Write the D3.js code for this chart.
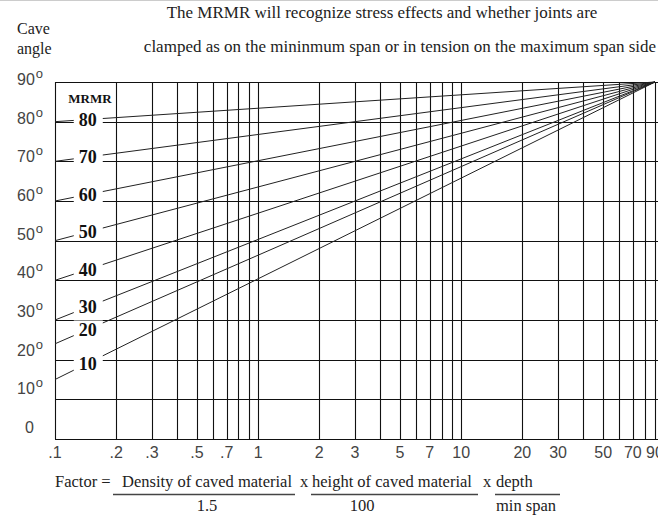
<!DOCTYPE html>
<html>
<head>
<meta charset="utf-8">
<script src="https://cdn.jsdelivr.net/npm/d3@7"></script>
<style>
  body { margin: 0; background: #fff; }
  svg text { font-family: "Liberation Serif", serif; fill: #222; }
  .tick-label { font-family: "Liberation Sans", Arial, sans-serif; font-size: 16px; fill: #444; }
</style>
</head>
<body>
<div id="chart"></div>
<script>
// MRMR cave angle chart

// Data
var mrmrValues = [10, 20, 30, 40, 50, 60, 70, 80]
var startAngles = [15, 24, 30, 40, 50, 60, 70, 80]   // cave angle at factor .1
var endFactor = 90, endAngle = 90                     // all lines meet here
var labelFactor = 0.145

var angleTicks = [0, 10, 20, 30, 40, 50, 60, 70, 80, 90]
var factorGrid = [.1, .2, .3, .4, .5, .6, .7, .8, .9, 1, 2, 3, 4, 5, 6, 7, 8, 9, 10, 20, 30, 40, 50, 60, 70, 80, 90]
var factorLabels = [.1, .2, .3, .5, .7, 1, 2, 3, 5, 7, 10, 20, 30, 50, 70, 90]

var width = 658, height = 515

var svg = d3.select("#chart").append("svg")
    .attr("width", width)
    .attr("height", height)

var x = d3.scaleLog()
  .domain([0.1, 90])
  .range([55, 655])

var y = d3.scaleLinear()
  .domain([0, 90])
  .range([439, 82])

// the angle labels on the left sit a bit off the grid in the original
var yLabel = d3.scaleLinear()
  .domain([0, 90])
  .range([433, 85])

// top frame line
svg.append("line")
  .attr("x1", 0).attr("x2", width)
  .attr("y1", 0.5).attr("y2", 0.5)
  .attr("stroke", "#ccc")

// Grid

svg.selectAll(".vgrid")
  .data(factorGrid)
  .enter().append("line")
  .attr("class", "vgrid")
  .attr("x1", function(d){ return Math.round(x(d)) + 0.5 })
  .attr("x2", function(d){ return Math.round(x(d)) + 0.5 })
  .attr("y1", y(90))
  .attr("y2", y(0))
  .attr("stroke", "#111")
  .attr("stroke-width", 1.1)

svg.selectAll(".hgrid")
  .data(angleTicks)
  .enter().append("line")
  .attr("class", "hgrid")
  .attr("x1", x(0.1))
  .attr("x2", width)
  .attr("y1", function(d){ return Math.round(y(d)) + 0.5 })
  .attr("y2", function(d){ return Math.round(y(d)) + 0.5 })
  .attr("stroke", "#111")
  .attr("stroke-width", 1.1)

// MRMR lines

var lineData = mrmrValues.map(function(v, i){
  return { mrmr: v, start: startAngles[i] }
})

svg.selectAll(".mrmr")
  .data(lineData)
  .enter().append("line")
  .attr("class", "mrmr")
  .attr("x1", x(0.1))
  .attr("y1", function(d){ return y(d.start) })
  .attr("x2", x(endFactor))
  .attr("y2", y(endAngle))
  .attr("stroke", "#222")
  .attr("stroke-width", 1)

// labels on the lines, with white boxes behind

function angleAt(d, f){
  var t = (Math.log10(f) - Math.log10(0.1)) / (Math.log10(endFactor) - Math.log10(0.1))
  return d.start + t * (endAngle - d.start)
}

var labels = svg.selectAll(".mrmr-label")
  .data(lineData)
  .enter().append("g")
  .attr("class", "mrmr-label")
  .attr("transform", function(d){
    return "translate(" + x(labelFactor) + "," + y(angleAt(d, labelFactor)) + ")"
  })

labels.append("rect")
  .attr("x", -14).attr("y", -9)
  .attr("width", 29).attr("height", 17)
  .attr("fill", "#fff")

labels.append("text")
  .attr("text-anchor", "middle")
  .attr("dy", "0.35em")
  .style("font-weight", "bold")
  .style("font-size", "18px")
  .style("fill", "#111")
  .text(function(d){ return d.mrmr })

svg.append("rect")
  .attr("x", 66).attr("y", 92).attr("width", 48).attr("height", 14)
  .attr("fill", "#fff")
svg.append("text")
  .attr("x", 90).attr("y", 103)
  .attr("text-anchor", "middle")
  .style("font-weight", "bold")
  .style("font-size", "13px")
  .style("fill", "#111")
  .text("MRMR")

// Y axis labels

var yl = svg.selectAll(".ylabel")
  .data(angleTicks)
  .enter().append("text")
  .attr("class", "tick-label")
  .attr("x", function(d){ return d === 0 ? 25 : 17 })
  .attr("y", function(d){ return yLabel(d) })

yl.append("tspan").text(function(d){ return d })
yl.append("tspan")
  .attr("dx", 1)
  .attr("dy", -7)
  .style("font-size", "13px")
  .text(function(d){ return d === 0 ? "" : "o" })

// X axis labels

svg.selectAll(".xlabel")
  .data(factorLabels)
  .enter().append("text")
  .attr("class", "tick-label")
  .attr("x", function(d){ return x(d) })
  .attr("y", 458)
  .attr("text-anchor", "middle")
  .text(function(d){ return d < 1 ? String(d).replace("0.", ".") : d })

// Axis title

svg.append("text")
  .attr("x", 17).attr("y", 34)
  .style("font-size", "16px")
  .text("Cave")
svg.append("text")
  .attr("x", 17).attr("y", 54)
  .style("font-size", "16px")
  .text("angle")

// Title

svg.append("text")
  .attr("x", 382).attr("y", 18)
  .attr("text-anchor", "middle")
  .style("font-size", "17px")
  .text("The MRMR will recognize  stress effects and whether joints are")
svg.append("text")
  .attr("x", 400).attr("y", 52)
  .attr("text-anchor", "middle")
  .style("font-size", "17px")
  .text("clamped as on the mininmum span or in tension on the maximum span side")

// Formula

var fy = 487
var pieces = [
  [55, "Factor ="], [122, "Density of caved material"], [300, "x"],
  [312, "height of caved material"], [483, "x"], [496, "depth"]
]
pieces.forEach(function(p){
  svg.append("text").attr("x", p[0]).attr("y", fy)
    .style("font-size", "16.5px")
    .text(p[1])
})

var bars = [[113, 295], [311, 478], [495, 560]]
bars.forEach(function(b){
  svg.append("line")
    .attr("x1", b[0]).attr("x2", b[1])
    .attr("y1", 494.5).attr("y2", 494.5)
    .attr("stroke", "#444")
    .attr("stroke-width", 1.3)
})
var denoms = [[207, "1.5"], [362, "100"], [526, "min span"]]
denoms.forEach(function(b){
  svg.append("text")
    .attr("x", b[0]).attr("y", 511)
    .attr("text-anchor", "middle")
    .style("font-size", "16.5px")
    .text(b[1])
})
</script>
</body>
</html>
